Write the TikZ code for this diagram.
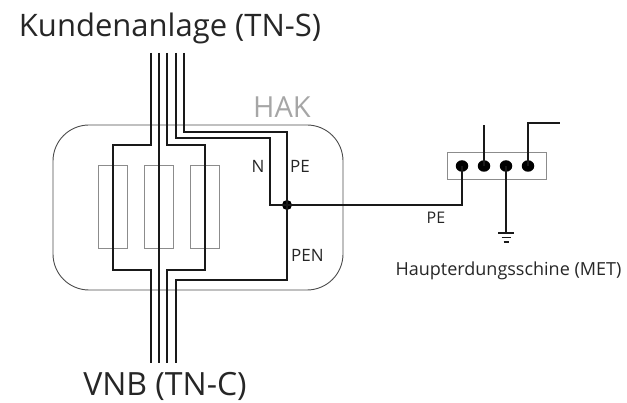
\documentclass[tikz,border=0pt]{standalone}
\usepackage{fontspec}
\setmainfont{Open Sans}
\usetikzlibrary{shapes.geometric,calc}
\begin{document}
\begin{tikzpicture}[x=1pt,y=-1pt,
  wire/.style={line width=2pt, black!90, line join=miter},
  fuse/.style={draw=black!45, line width=0.9pt, minimum width=29pt, minimum height=83pt, inner sep=0pt},
  junction/.style={circle, fill=black, inner sep=0pt, minimum size=10pt},
  metdot/.style={ellipse, fill=black, inner sep=0pt, minimum width=12.5pt, minimum height=11.5pt},
  lbl/.style={inner sep=0pt, text=black!85, anchor=base},
  thinline/.style={line width=1.2pt, black!90}]
\useasboundingbox (0,0) rectangle (627,403);
% HAK box
\node[draw=black!70, line width=0.9pt, rounded corners=36pt, minimum width=290pt, minimum height=165pt, inner sep=0pt] (hak) at (198,207.5) {};
\node[lbl, text=black!35, font=\fontsize{29}{29}\selectfont] (haklbl) at (282,118) {HAK};
% fuses
\node[fuse] (f1) at (112.5,206.5) {};
\node[fuse] (f2) at (158.5,206.5) {};
\node[fuse] (f3) at (204.5,206.5) {};
% top / bottom wire ends
\coordinate (t1) at (150.5,53);
\coordinate (t2) at (158.5,53);
\coordinate (t3) at (167,53);
\coordinate (t4) at (175.5,53);
\coordinate (t5) at (184,53);
\coordinate (b1) at (150.5,363);
\coordinate (b2) at (158.5,363);
\coordinate (b3) at (167,363);
\coordinate (b4) at (175.5,363);
% junction
\node[junction] (j) at (287,205) {};
% wires
\draw[wire] (t1) -- (150.5,145) -| (f1.center) |- (150.5,270) -- (b1);
\draw[wire] (t2) -- (f2.center) -- (b2);
\draw[wire] (t3) -- (167,145) -| (f3.center) |- (167,270) -- (b3);
\draw[wire] (t4) -- (175.5,138) -| (270,205) -- (j.center);
\draw[wire] (t5) -- (184,132) -| (j.center);
\draw[wire] (j.center) -- (287,280) -| (b4);
% labels
\node[lbl, font=\fontsize{17}{17}\selectfont] (nlbl) at (258,173) {N};
\node[lbl, font=\fontsize{17}{17}\selectfont] (pelbl) at (300,173) {PE};
\node[lbl, font=\fontsize{17}{17}\selectfont] (penlbl) at (307.5,262) {PEN};
% MET
\node[draw=black!45, line width=0.9pt, minimum width=99pt, minimum height=27pt, inner sep=0pt] (met) at (496.5,165.5) {};
\node[metdot] (m1) at (462,166) {};
\node[metdot] (m2) at (484,166) {};
\node[metdot] (m3) at (506,166) {};
\node[metdot] (m4) at (528,166) {};
\draw[wire] (j.center) -- (462,205) -- (m1.center);
\coordinate (m2end) at (484,125);
\coordinate (m4end) at (560,123);
\coordinate (gnd) at (506,233);
\draw[wire] (m2.center) -- (m2end);
\draw[wire] (m4.center) |- (m4end);
\draw[wire] (m3.center) -- (gnd);
\draw[thinline] ($(gnd)+(-8,0)$) -- ($(gnd)+(8,0)$);
\draw[thinline] ($(gnd)+(-4.5,4.5)$) -- ($(gnd)+(4.5,4.5)$);
\draw[thinline] ($(gnd)+(-2.5,9)$) -- ($(gnd)+(2.5,9)$);
\node[lbl, font=\fontsize{16}{16}\selectfont] (pelbl2) at (436,224) {PE};
\node[lbl, font=\fontsize{18}{18}\selectfont] (metlbl) at (508.5,276) {Haupterdungsschine (MET)};
% titles
\node[lbl, font=\fontsize{31}{31}\selectfont] (top) at (170,37) {Kundenanlage (TN-S)};
\node[lbl, font=\fontsize{32}{32}\selectfont] (bottom) at (165,396) {VNB (TN-C)};
\end{tikzpicture}
\end{document}
